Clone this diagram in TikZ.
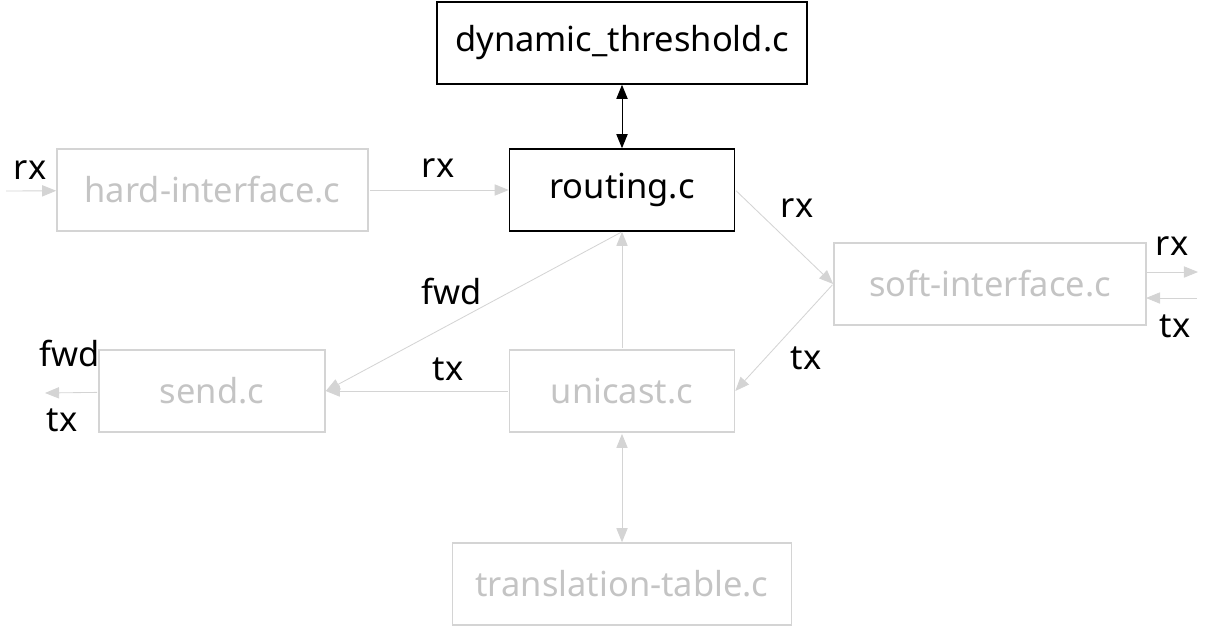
\documentclass[tikz,border=0pt]{standalone}
\usepackage{fontspec}
\setmainfont{Noto Sans}
\usetikzlibrary{arrows.meta}
\definecolor{dimline}{HTML}{D4D4D4}
\definecolor{dimtext}{HTML}{C4C4C4}
\begin{document}
\begin{tikzpicture}
        [x=0.025cm,y=-0.025cm,
         box/.style={draw,line width=1.1pt,minimum height=2.05cm,inner sep=0pt,font=\fontsize{24.5}{28}\selectfont},
         dimbox/.style={box,draw=dimline,text=dimtext},
         lbl/.style={inner sep=0pt,font=\fontsize{24.5}{28}\selectfont},
         flow/.style={color=dimline,line width=0.6pt,shorten <=0.8pt,-{Triangle[length=10pt,width=8pt]}}]
        \useasboundingbox (0,0) rectangle (1230,627);
        %Boxes
        \node[box,minimum width=9.25cm]     (DT) at (622,43)     {dynamic\_threshold.c};
        \node[box,minimum width=5.625cm]    (R)  at (622,190)    {routing.c};
        \node[dimbox,minimum width=7.775cm] (HI) at (212.5,190)  {hard-interface.c};
        \node[dimbox,minimum width=7.8cm]   (SI) at (990,284)    {soft-interface.c};
        \node[dimbox,minimum width=5.65cm]  (S)  at (212,391)    {send.c};
        \node[dimbox,minimum width=5.625cm] (U)  at (622,391)    {unicast.c};
        \node[dimbox,minimum width=8.475cm] (TT) at (622,584)    {translation-table.c};
        %Free ends
        \coordinate (HIin)  at (5,191);
        \coordinate (Sout)  at (45,393);
        \coordinate (SIr1)  at (1146,272);
        \coordinate (SIout) at (1198,272);
        \coordinate (SIr2)  at (1146,298);
        \coordinate (SIin)  at (1198,298);

        \draw[line width=0.7pt,{Triangle[length=10pt,width=8pt]}-{Triangle[length=10pt,width=8pt]}]
        (DT) -- (R);

        \draw
        (HIin)      edge[flow]        (HI)
        (HI)        edge[flow]        (R)
        (R.east)    edge[flow]        (SI.west)
        (SI.west)   edge[flow]        (U.east)
        (U)         edge[flow]        (R)
        (R.south)   edge[flow]        (S.east)
        (U)         edge[flow]        (S)
        (S)         edge[flow]        (Sout)
        (SIr1)      edge[flow]        (SIout)
        (SIin)      edge[flow]        (SIr2);

        \draw[flow,{Triangle[length=10pt,width=8pt]}-{Triangle[length=10pt,width=8pt]}]
        (U) -- (TT);

        %Labels
        \node[lbl] (Lrx1)  at (30,170)   {rx};
        \node[lbl] (Lrx2)  at (438,168)  {rx};
        \node[lbl] (Lrx3)  at (797,208)  {rx};
        \node[lbl] (Lrx4)  at (1172,246) {rx};
        \node[lbl] (Ltx1)  at (1175,326) {tx};
        \node[lbl] (Ltx2)  at (806,358)  {tx};
        \node[lbl] (Ltx3)  at (448,369)  {tx};
        \node[lbl] (Ltx4)  at (62,420)   {tx};
        \node[lbl] (Lfwd1) at (452,291)  {fwd};
        \node[lbl] (Lfwd2) at (70,353)   {fwd};
    \end{tikzpicture}
\end{document}
